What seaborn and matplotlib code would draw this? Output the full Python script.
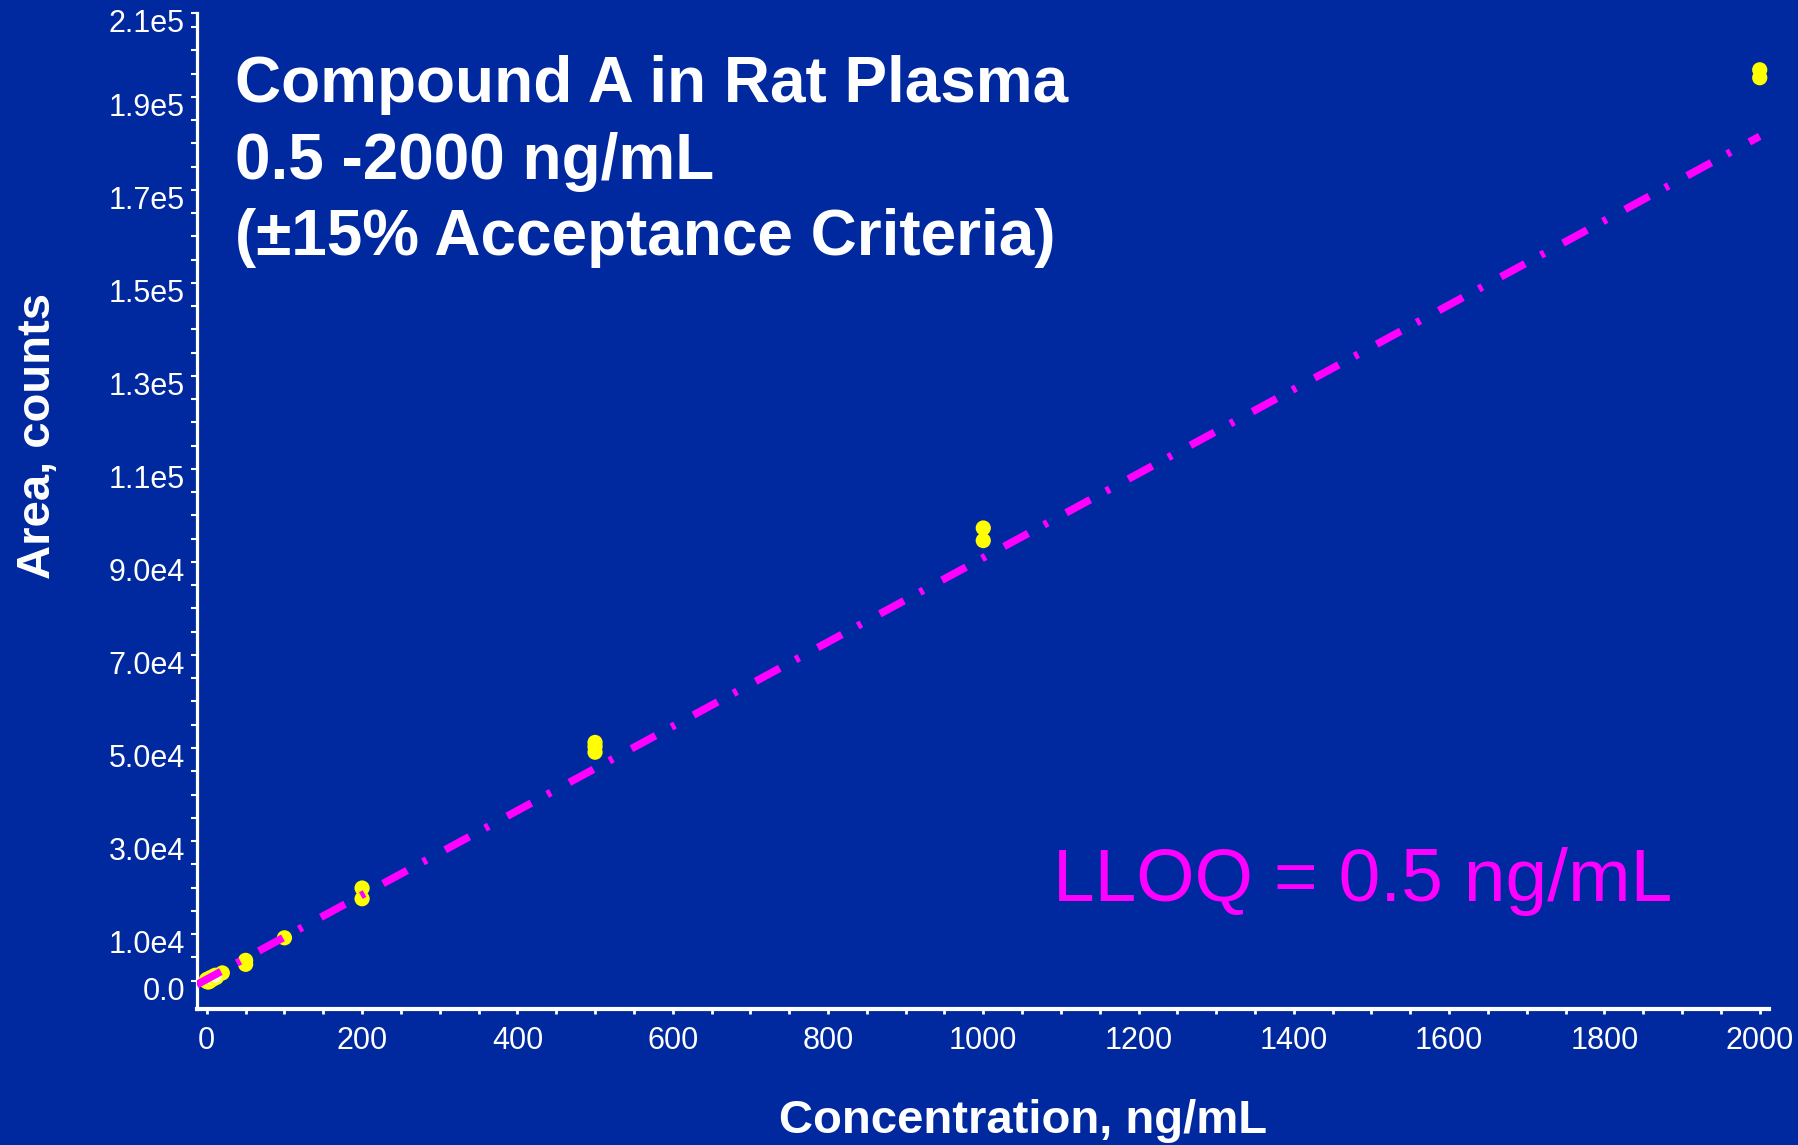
import numpy as np
import pandas as pd
import seaborn as sns
import matplotlib.pyplot as plt
from matplotlib.ticker import FixedLocator
from matplotlib.transforms import ScaledTranslation

# Calibration standards (ng/mL vs peak area)
conc = [0.5, 1, 2, 5, 10, 20, 50, 50, 100, 200, 200,
        500, 500, 500, 1000, 1000, 2000, 2000]
area = [60, 110, 200, 480, 930, 1650, 4350, 3500, 9200, 19900, 17600,
        51200, 50300, 49100, 97300, 94600, 195800, 194100]

# Regression line
slope = 90.6
intercept = 300.0

x_ticks = [0, 200, 400, 600, 800, 1000, 1200, 1400, 1600, 1800, 2000]
y_ticks = [0, 1e4, 3e4, 5e4, 7e4, 9e4, 1.1e5, 1.3e5, 1.5e5, 1.7e5, 1.9e5, 2.08e5]
y_labels = ["0.0", "1.0e4", "3.0e4", "5.0e4", "7.0e4", "9.0e4",
            "1.1e5", "1.3e5", "1.5e5", "1.7e5", "1.9e5", "2.1e5"]

title_lines = ["Compound A in Rat Plasma", "0.5 -2000 ng/mL", "(\u00b115% Acceptance Criteria)"]
lloq_text = "LLOQ = 0.5 ng/mL"

bg = "#0029A0"
yellow = "#FFFF00"
magenta = "#FF00FF"

sns.set_style("white")
plt.rcParams["font.family"] = ["Liberation Sans", "DejaVu Sans"]

df = pd.DataFrame({"conc": conc, "area": area})
low = df[df["conc"] < 20]
high = df[df["conc"] >= 20]

fig = plt.figure(figsize=(17.98, 11.45), dpi=100, facecolor=bg)
ax = fig.add_axes([0.1094, 0.1188, 0.8745, 0.8698])
ax.set_facecolor(bg)

sns.scatterplot(data=high, x="conc", y="area", color=yellow, s=120,
                edgecolor="none", ax=ax, zorder=3)
sns.scatterplot(data=low, x="conc", y="area", color="#FFFFC8", s=120,
                edgecolor=yellow, linewidth=1.8, ax=ax, zorder=3)

fit_x = np.array([-13, max(conc)])
fit_y = slope * fit_x + intercept
sns.lineplot(x=fit_x, y=fit_y, color=magenta, lw=5.5, ax=ax, zorder=4,
             linestyle=(0, (3.6, 2.35, 0.55, 2.75)))

ax.set_xlim(-13, 2012)
ax.set_ylim(-6100, 2.08e5)

ax.xaxis.set_major_locator(FixedLocator(x_ticks))
ax.xaxis.set_minor_locator(FixedLocator(np.arange(0, 2001, 50)))
ax.set_xticklabels([str(t) for t in x_ticks])
ax.yaxis.set_major_locator(FixedLocator(y_ticks))
ax.yaxis.set_minor_locator(FixedLocator(np.arange(0, 2.06e5, 5000)))
ax.set_yticklabels(y_labels)

for side in ["top", "right"]:
    ax.spines[side].set_visible(False)
ax.spines["left"].set_color("white")
ax.spines["left"].set_linewidth(2.3)
ax.spines["bottom"].set_color("white")
ax.spines["bottom"].set_linewidth(3)

ax.tick_params(axis="x", which="both", bottom=True, direction="out", length=3.5,
               width=2, color="white", labelcolor="white", labelsize=22, pad=9)
ax.tick_params(axis="y", which="both", left=True, direction="out", length=4.5,
               width=1.5, color="white", labelcolor="white", labelsize=22, pad=4)

# the y labels sit a little below their ticks in the original
shift = ScaledTranslation(0, -0.075, fig.dpi_scale_trans)
for lab in ax.get_yticklabels():
    lab.set_transform(lab.get_transform() + shift)

ax.set_xlabel("")
ax.set_ylabel("")
fig.text(0.569, 0.021, "Concentration, ng/mL", color="white", fontsize=34,
         fontweight="bold", ha="center", va="center")
fig.text(0.021, 0.619, "Area, counts", color="white", fontsize=34,
         fontweight="bold", ha="center", va="center", rotation=90)

for i, line in enumerate(title_lines):
    fig.text(0.1307, 1 - (85 + 76.5 * i) / 1145, line, color="white",
             fontsize=46, fontweight="bold", ha="left", va="center")

fig.text(0.5857, 1 - 881 / 1145, lloq_text, color=magenta, fontsize=54,
         ha="left", va="center")

fig.savefig("out.png", dpi=100, facecolor=bg)
plt.close(fig)
